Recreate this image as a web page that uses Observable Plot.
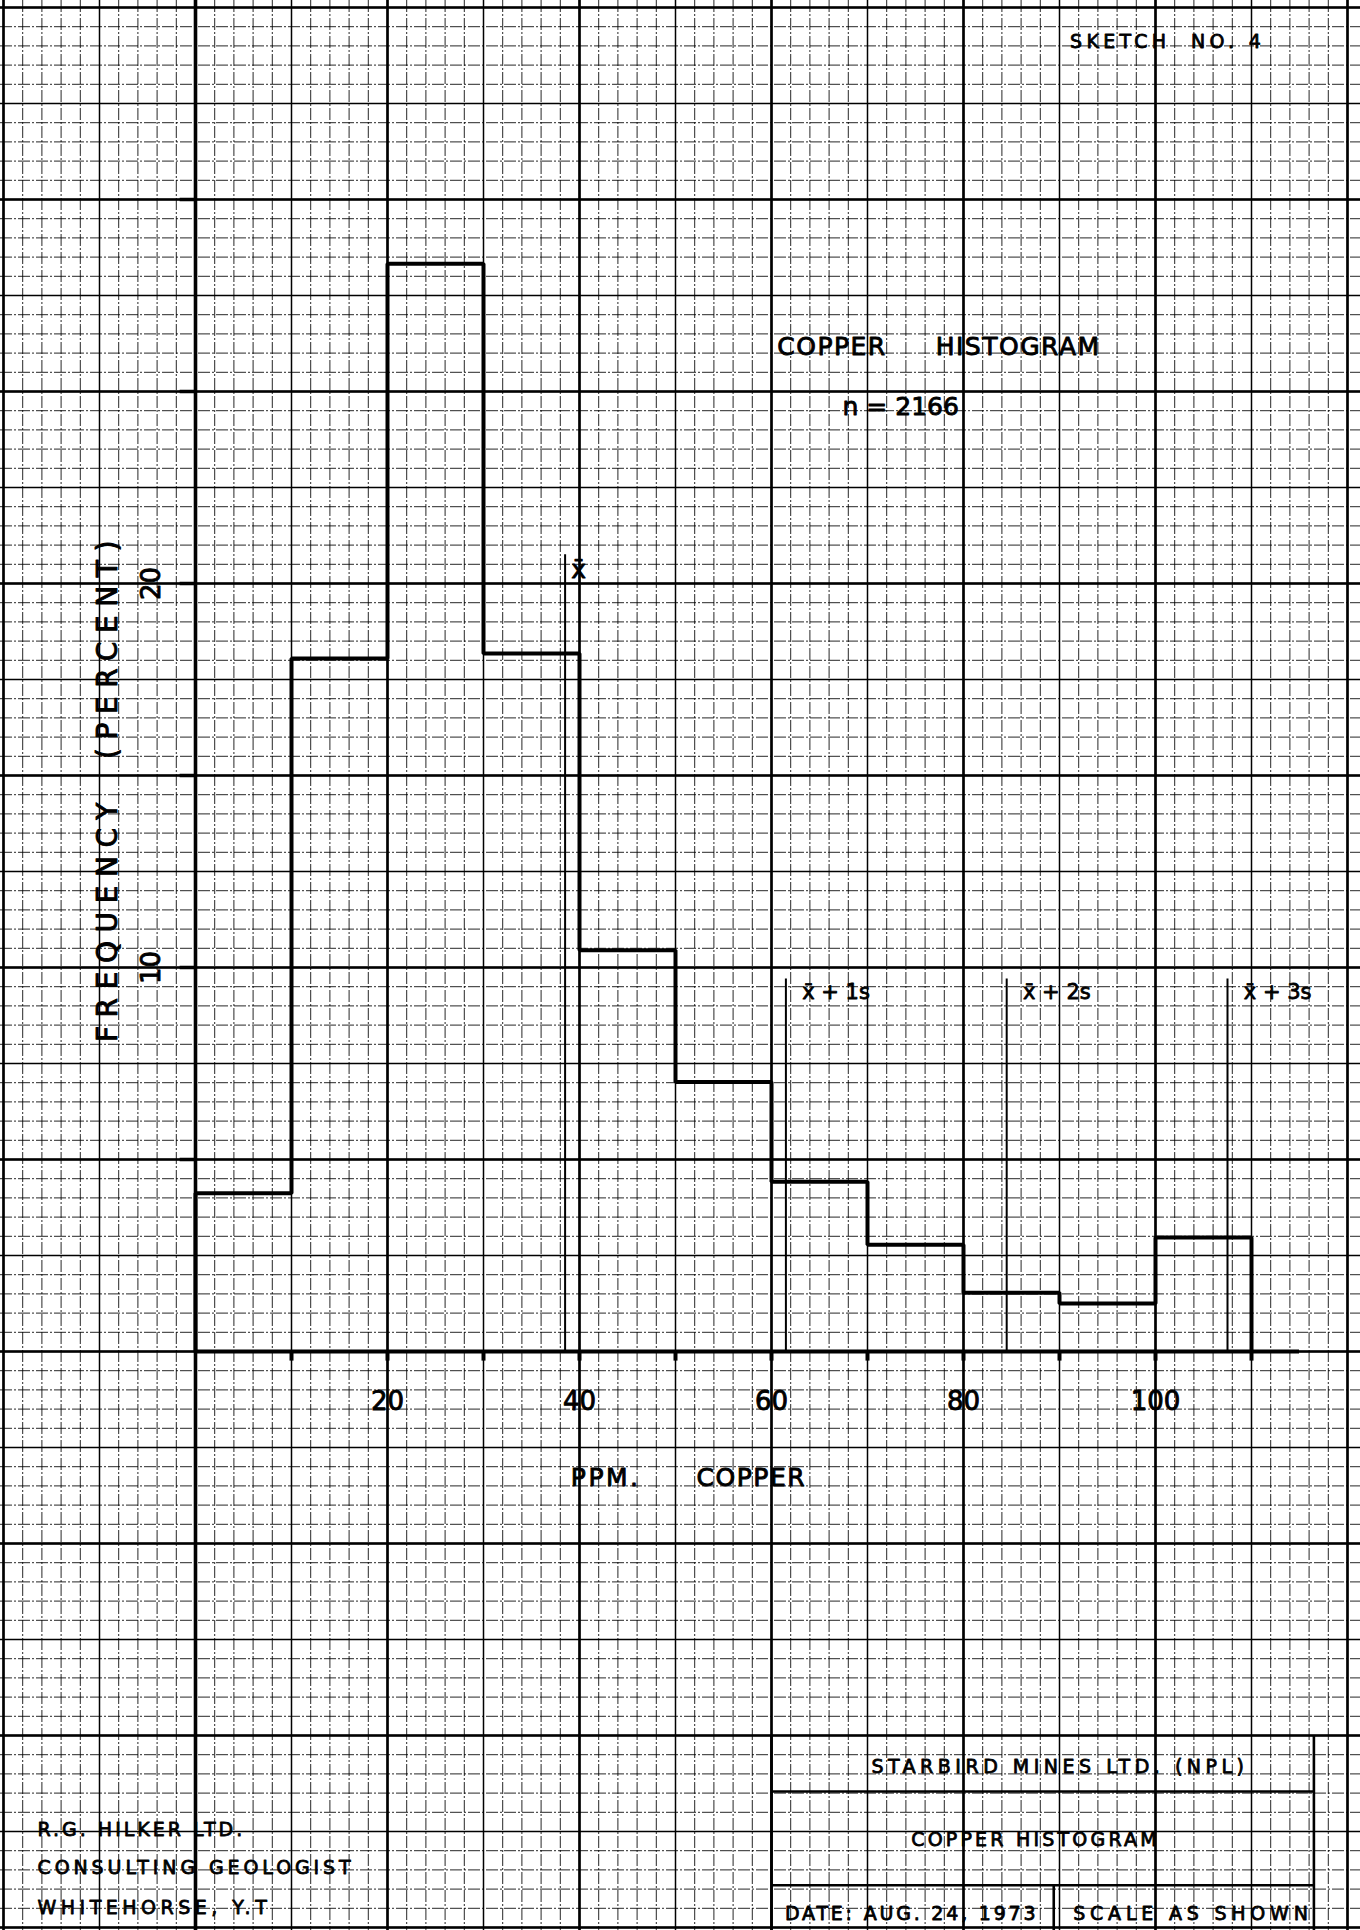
<!DOCTYPE html>
<html>
<head>
<meta charset="utf-8">
<script src="https://cdn.jsdelivr.net/npm/d3@7"></script>
<script src="https://cdn.jsdelivr.net/npm/@observablehq/plot@0.6"></script>
<style>
  html, body { margin: 0; padding: 0; background: #fff; }
  #chart svg { display: block; }
</style>
</head>
<body>
<div id="chart"></div>
<script>
// ---- data ----
const ppmBins = [0, 10, 20, 30, 40, 50, 60, 70, 80, 90, 100, 110];
const frequency = [4.12, 18.05, 28.33, 18.18, 10.45, 7.02, 4.42, 2.78, 1.53, 1.25, 2.97];
const sampleCount = 2166;
const meanPpm = 38.5;
const sdPpm = 23;
const sigmaMultiples = [1, 2, 3];
const sigmaLabels = ["x\u0304 + 1s", "x\u0304 + 2s", "x\u0304 + 3s"];
const xTickValues = [10, 20, 30, 40, 50, 60, 70, 80, 90, 100, 110];
const xTickLabels = ["20", "40", "60", "80", "100"];
const yTickValues = [5, 10, 15, 20, 25, 30];
const yTickLabels = ["10", "20"];

// ---- derived ----
const outline = [{x: ppmBins[0], y: 0}];
frequency.forEach((f, i) => {
  outline.push({x: ppmBins[i], y: f}, {x: ppmBins[i + 1], y: f});
});
outline.push({x: ppmBins[ppmBins.length - 1], y: 0});
const sigmaLines = sigmaMultiples.map((k, i) => ({x: meanPpm + k * sdPpm, label: sigmaLabels[i]}));

// graph-paper grid (2 ppm = 0.5 % = one small square)
const minorX = d3.range(-20, 121, 2), mediumX = d3.range(-20, 121, 10), majorX = d3.range(-20, 121, 20);
const minorY = d3.range(-15, 35.01, 0.5), mediumY = d3.range(-15, 35.01, 2.5), majorY = d3.range(-15, 35.01, 5);

const ink = "#000";
// hand-lettered look: same glyph metrics, thickened with a stroke
const letter = (size, w) => ({fontSize: size, fill: ink, stroke: ink, strokeWidth: w});

const chart = Plot.plot({
  width: 1360,
  height: 1930,
  margin: 0,
  x: {domain: [0, 100], range: [195, 1155], axis: null},
  y: {domain: [0, 30], range: [1351, 199], axis: null},
  style: {background: "#fff", fontFamily: "DejaVu Sans", color: ink},
  marks: [
    // paper grid
    Plot.ruleX(minorX, {stroke: ink, strokeWidth: 1, strokeOpacity: 0.85, strokeDasharray: "12,2,2,2"}),
    Plot.ruleY(minorY, {stroke: ink, strokeWidth: 1, strokeOpacity: 0.85, strokeDasharray: "12,2,2,2"}),
    Plot.ruleX(mediumX, {stroke: ink, strokeWidth: 1.5}),
    Plot.ruleY(mediumY, {stroke: ink, strokeWidth: 1.5}),
    Plot.ruleX(majorX, {stroke: ink, strokeWidth: 2.6}),
    Plot.ruleY(majorY, {stroke: ink, strokeWidth: 2.6}),

    // axes
    Plot.ruleY([0], {x1: 0, x2: 115, stroke: ink, strokeWidth: 4}),
    Plot.ruleX([0], {stroke: ink, strokeWidth: 3.6}),
    Plot.ruleX(xTickValues, {y1: 0, y2: -0.25, stroke: ink, strokeWidth: 4}),
    Plot.ruleY(yTickValues, {x1: -1.6, x2: 0, stroke: ink, strokeWidth: 3.5}),
    Plot.text(xTickLabels, {x: d => +d, y: -1.3, text: d => d, ...letter(26, 0.9)}),
    Plot.text(yTickLabels, {x: -4.6, y: d => +d, text: d => d, rotate: -90, ...letter(26, 0.9)}),

    // histogram outline
    Plot.line(outline, {x: "x", y: "y", stroke: ink, strokeWidth: 4, strokeLinejoin: "miter"}),

    // mean and sigma lines
    Plot.ruleX([meanPpm], {y1: 0, y2: 20.75, stroke: ink, strokeWidth: 2}),
    Plot.text(["x\u0304"], {x: meanPpm + 1.4, y: 20.35, text: d => d, ...letter(25, 0.9)}),
    Plot.ruleX(sigmaLines, {x: "x", y1: 0, y2: 9.7, stroke: ink, strokeWidth: 2}),
    Plot.text(sigmaLines, {x: d => d.x + 1.7, y: 9.35, text: "label", textAnchor: "start", ...letter(21, 0.8)}),

    // titles
    Plot.text(["COPPER"], {x: 60.6, y: 26.15, text: d => d, textAnchor: "start", ...letter(25, 0.9)}),
    Plot.text(["HISTOGRAM"], {x: 77.1, y: 26.15, text: d => d, textAnchor: "start", ...letter(25, 0.9)}),
    Plot.text([`n = ${sampleCount}`], {x: 67.4, y: 24.6, text: d => d, textAnchor: "start", ...letter(25, 0.9)}),
    Plot.text(["SKETCH  NO. 4"], {x: 91.1, y: 34.1, text: d => d, textAnchor: "start", ...letter(19, 0.8)}),
    Plot.text(["FREQUENCY  (PERCENT)"], {x: -9.1, y: 14.7, text: d => d, rotate: -90, ...letter(28, 0.9)}),
    Plot.text(["PPM."], {x: 39.1, y: -3.3, text: d => d, textAnchor: "start", ...letter(25, 0.9)}),
    Plot.text(["COPPER"], {x: 52.2, y: -3.3, text: d => d, textAnchor: "start", ...letter(25, 0.9)}),

    // title block
    Plot.ruleY([-11.46, -13.9], {x1: 60, x2: 116.5, stroke: ink, strokeWidth: 2.6}),
    Plot.ruleX([60, 116.5], {y1: -10, y2: -15.2, stroke: ink, strokeWidth: 2.6}),
    Plot.ruleX([89.4], {y1: -13.9, y2: -15.2, stroke: ink, strokeWidth: 2.6}),
    Plot.text(["STARBIRD MINES LTD. (NPL)"], {x: 90.05, y: -10.83, text: d => d, ...letter(19, 0.8)}),
    Plot.text(["COPPER HISTOGRAM"], {x: 87.5, y: -12.73, text: d => d, ...letter(19, 0.8)}),
    Plot.text(["DATE: AUG. 24, 1973"], {x: 74.6, y: -14.64, text: d => d, ...letter(19, 0.8)}),
    Plot.text(["SCALE AS SHOWN"], {x: 103.9, y: -14.64, text: d => d, ...letter(19, 0.8)}),
    Plot.text(["R.G. HILKER LTD."], {x: -16.46, y: -12.45, text: d => d, textAnchor: "start", ...letter(19, 0.8)}),
    Plot.text(["CONSULTING GEOLOGIST"], {x: -16.46, y: -13.46, text: d => d, textAnchor: "start", ...letter(19, 0.8)}),
    Plot.text(["WHITEHORSE, Y.T"], {x: -16.46, y: -14.48, text: d => d, textAnchor: "start", ...letter(19, 0.8)})
  ]
});

// lettering-guide spacing
const spacing = new Map([
  ["COPPER", 1.5], ["HISTOGRAM", 1.5], ["PPM.", 2.5],
  ["SKETCH  NO. 4", 4.3], ["FREQUENCY  (PERCENT)", 8.6],
  ["STARBIRD MINES LTD. (NPL)", 4.5], ["COPPER HISTOGRAM", 3.2],
  ["DATE: AUG. 24, 1973", 2.8], ["SCALE AS SHOWN", 4.8],
  ["R.G. HILKER LTD.", 3], ["CONSULTING GEOLOGIST", 3.9], ["WHITEHORSE, Y.T", 4.5]
]);
d3.select(chart).selectAll("text").each(function() {
  const t = this.textContent;
  if (spacing.has(t)) this.setAttribute("letter-spacing", spacing.get(t));
  this.setAttribute("xml:space", "preserve");
  this.style.whiteSpace = "pre";
});
document.getElementById("chart").appendChild(chart);
</script>
</body>
</html>
